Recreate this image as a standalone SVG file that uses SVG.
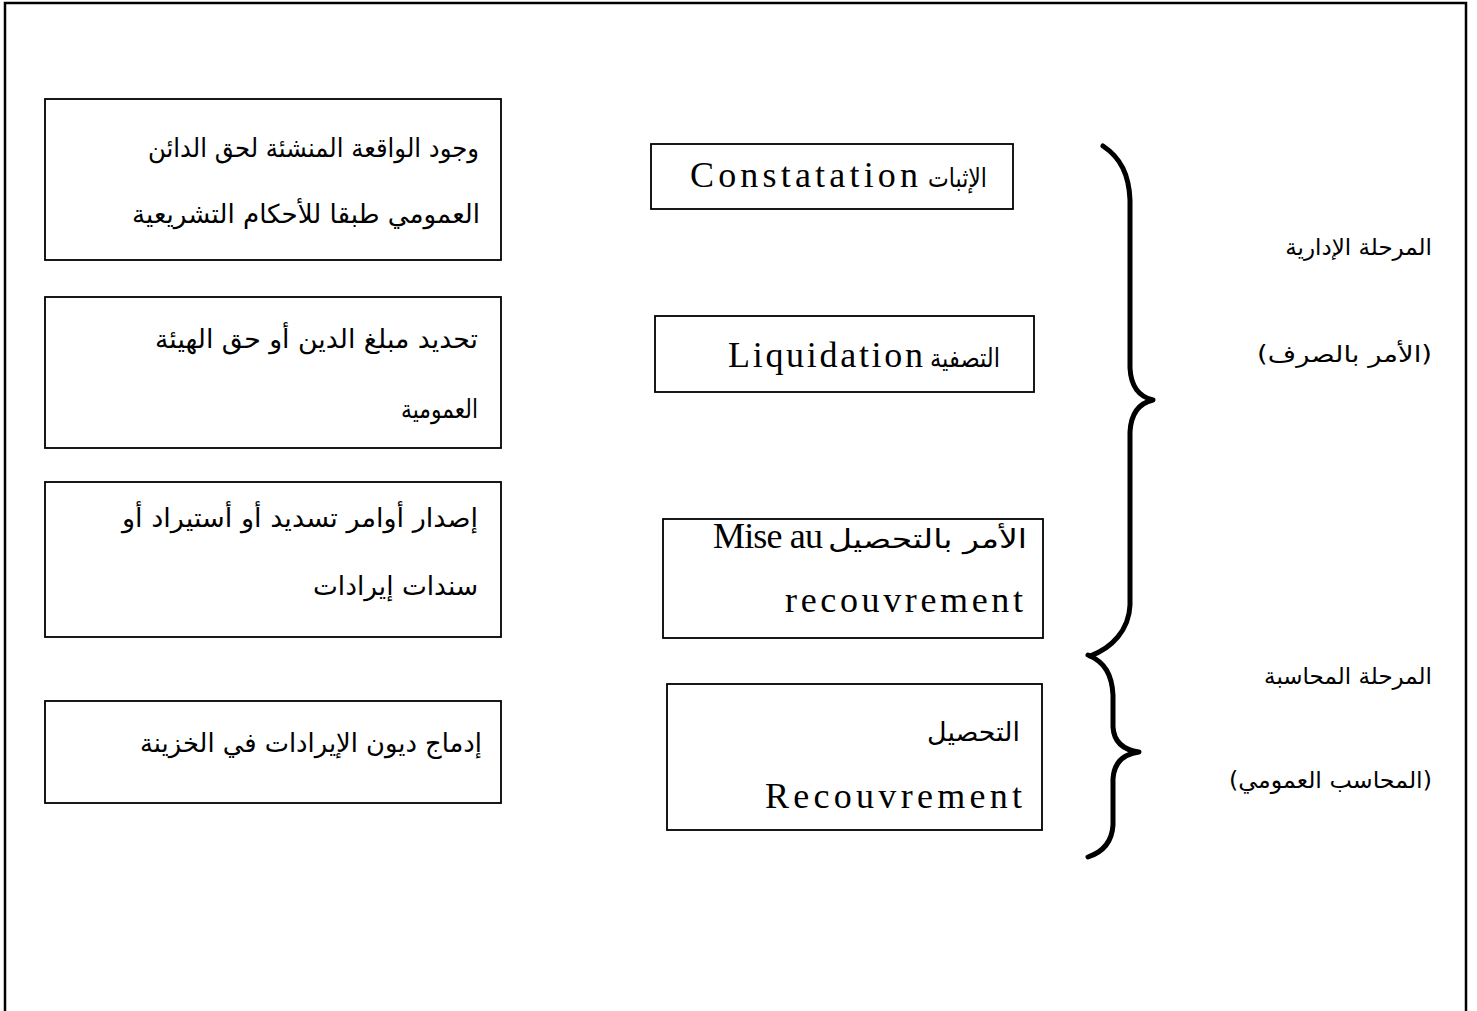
<svg xmlns="http://www.w3.org/2000/svg" width="1477" height="1011" viewBox="0 0 1477 1011">
<style>
.box{fill:#fff;stroke:#000;stroke-width:1.8}
.ar{font-family:"DejaVu Sans",sans-serif;font-size:26px;fill:#000}
.lbl{font-family:"DejaVu Sans",sans-serif;font-size:23px;fill:#000}
.lat{font-family:"Liberation Serif",serif;font-size:36px;fill:#000}
.brace{fill:none;stroke:#000;stroke-width:5;stroke-linecap:round;stroke-linejoin:round}
</style>
<rect x="0" y="0" width="1477" height="1011" fill="#fff"/>
<rect x="5" y="3" width="1461" height="1030" fill="none" stroke="#000" stroke-width="2.5"/>

<g id="box-wujud">
<rect class="box" x="45" y="99" width="456" height="161"/>
<text class="ar" x="148" y="157" textLength="331" lengthAdjust="spacingAndGlyphs">وجود الواقعة المنشئة لحق الدائن</text>
<text class="ar" x="132" y="223" textLength="348" lengthAdjust="spacingAndGlyphs">العمومي طبقا للأحكام التشريعية</text>
</g>
<g id="box-tahdid">
<rect class="box" x="45" y="297" width="456" height="151"/>
<text class="ar" x="155" y="348" textLength="323" lengthAdjust="spacingAndGlyphs">تحديد مبلغ الدين أو حق الهيئة</text>
<text class="ar" x="401" y="418" textLength="77" lengthAdjust="spacingAndGlyphs">العمومية</text>
</g>
<g id="box-isdar">
<rect class="box" x="45" y="482" width="456" height="155"/>
<text class="ar" x="122" y="527" textLength="356" lengthAdjust="spacingAndGlyphs">إصدار أوامر تسديد أو أستيراد أو</text>
<text class="ar" x="313" y="595" textLength="165" lengthAdjust="spacingAndGlyphs">سندات إيرادات</text>
</g>
<g id="box-idmaj">
<rect class="box" x="45" y="701" width="456" height="102"/>
<text class="ar" x="140" y="752" textLength="342" lengthAdjust="spacingAndGlyphs">إدماج ديون الإيرادات في الخزينة</text>
</g>

<g id="node-constatation">
<rect class="box" x="651" y="144" width="362" height="65"/>
<text class="lat" x="690" y="187" textLength="228" lengthAdjust="spacing">Constatation</text>
<text class="ar" x="928" y="187" textLength="59" lengthAdjust="spacingAndGlyphs">الإثبات</text>
</g>
<g id="node-liquidation">
<rect class="box" x="655" y="316" width="379" height="76"/>
<text class="lat" x="728" y="367" textLength="195" lengthAdjust="spacing">Liquidation</text>
<text class="ar" x="930" y="367" textLength="70" lengthAdjust="spacingAndGlyphs">التصفية</text>
</g>
<g id="node-mise">
<rect class="box" x="663" y="519" width="380" height="119"/>
<text class="lat" x="713" y="548" textLength="110" lengthAdjust="spacing">Mise au</text>
<text class="ar" x="828" y="548" textLength="199" lengthAdjust="spacingAndGlyphs">الأمر بالتحصيل</text>
<text class="lat" x="785" y="612" textLength="238" lengthAdjust="spacing">recouvrement</text>
</g>
<g id="node-recouvrement">
<rect class="box" x="667" y="684" width="375" height="146"/>
<text class="ar" x="927" y="741" textLength="93" lengthAdjust="spacingAndGlyphs">التحصيل</text>
<text class="lat" x="765" y="808" textLength="257" lengthAdjust="spacing">Recouvrement</text>
</g>

<g id="connectors">
<path class="brace" d="M1103,146 C1121,158 1129,175 1130,200 L1130,368 C1131,388 1140,397 1153,400 C1140,403 1131,412 1130,432 L1130,605 C1129,630 1112,648 1090,656"/>
<path class="brace" d="M1088,655 C1105,662 1112,675 1113,695 L1113,727 C1114,743 1124,750 1139,752 C1124,754 1114,762 1113,779 L1113,825 C1112,842 1103,852 1088,857"/>
</g>

<g id="label-admin">
<text class="lbl" x="1432" y="255" text-anchor="end">المرحلة الإدارية</text>
<text class="lbl" x="1257" y="362" textLength="175" lengthAdjust="spacingAndGlyphs">(الأمر بالصرف)</text>
</g>
<g id="label-compta">
<text class="lbl" x="1432" y="684" text-anchor="end">المرحلة المحاسبة</text>
<text class="lbl" x="1229" y="788" textLength="203" lengthAdjust="spacingAndGlyphs">(المحاسب العمومي)</text>
</g>
</svg>
